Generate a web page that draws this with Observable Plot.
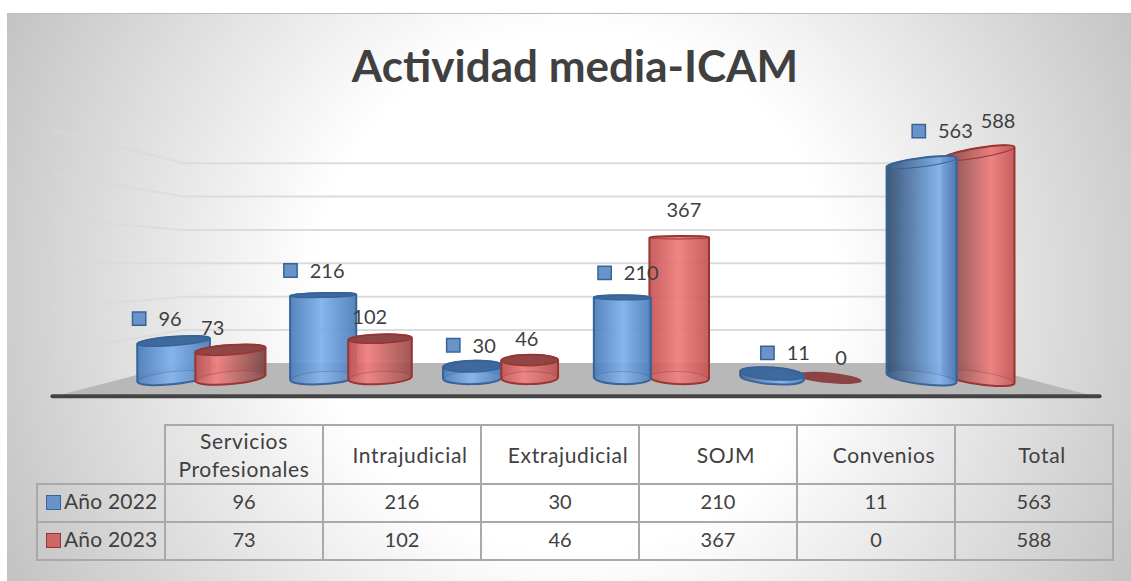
<!DOCTYPE html>
<html lang="es">
<head>
<meta charset="utf-8">
<script src="https://cdn.jsdelivr.net/npm/d3@7"></script>
<script src="https://cdn.jsdelivr.net/npm/@observablehq/plot@0.6"></script>
<style>
  html, body { margin: 0; padding: 0; background: #fff; width: 1131px; height: 581px; overflow: hidden; }
  #frame { position: absolute; left: 7px; top: 13px; width: 1124px; height: 568px; border-top: 1px solid #bcbcbc; box-sizing: border-box;
    background: radial-gradient(circle 626px at 568px 277px, #fff 0%, #fff 41.5%, #c4c4c4 100%); }
  #title { position: absolute; left: 0; top: 65px; transform: translateY(-50%); width: 1150px; text-align: center; margin: 0; font: 700 44px Lato, sans-serif; color: #404040; z-index: 2; }
  #chart { position: absolute; left: 7px; top: 100px; }
  #chart svg { background: transparent; overflow: visible; }
  table { position: absolute; left: 36px; top: 424px; border-collapse: collapse; table-layout: fixed; width: 1076px; font: 20px Lato, sans-serif; color: #404040; }
  th, td { border: 2px solid #a9a9a9; text-align: center; font-weight: 400; padding: 0; box-sizing: border-box; }
  td { line-height: 26px; padding-bottom: 4px; }
  th { font-size: 21px; letter-spacing: 0.65px; line-height: 28px; padding-left: 16px; }
  th:nth-child(2) { padding-left: 0; }
  thead tr { height: 59px; }
  tbody tr { height: 38px; }
  th.blank { border: 0; padding: 0; border-right: 2px solid #a9a9a9; border-bottom: 2px solid #a9a9a9; }
  td.key { text-align: left; padding-left: 8px; white-space: nowrap; font-size: 21px; letter-spacing: 0.2px; }
  .swatch { display: inline-block; width: 13px; height: 13px; margin-right: 3px; vertical-align: -1px; border: 1px solid; }
</style>
</head>
<body>
<div id="frame"></div>
<h1 id="title">Actividad media-ICAM</h1>
<div id="chart"></div>
<table id="tbl"></table>
<script>
const categories = ["Servicios Profesionales", "Intrajudicial", "Extrajudicial", "SOJM", "Convenios", "Total"];
const year2022 = [96, 216, 30, 210, 11, 563];
const year2023 = [73, 102, 46, 367, 0, 588];
const seriesNames = ["Año 2022", "Año 2023"];
const wallTicks = [100, 200, 300, 400, 500, 600];

// Look of the fake 3-D scene
const palette = {
  "Año 2022": {key: "#6a94c9", edge: "#37639a", base: "#4a7bb7", light: "#7db0ec", dark: "#2f4a6d", cap: "#3b6699"},
  "Año 2023": {key: "#cd6765", edge: "#9a3431", base: "#c25452", light: "#ee7c7c", dark: "#6e4040", cap: "#8b4343"}
};
const vanish = 2.49;     // x position (in category steps) of the vanishing point
const eyeLevel = 330;    // value at which a cylinder's top looks edge-on
const seriesShift = 0.19;

const rows = categories.flatMap((category, i) => [
  {category, series: seriesNames[0], value: year2022[i], x: i - seriesShift},
  {category, series: seriesNames[1], value: year2023[i], x: i + seriesShift}
]).map(r => ({...r, w: 0.367 + 0.045 * Math.abs(r.x - vanish)}))
  .sort((a, b) => Math.abs(b.x - vanish) - Math.abs(a.x - vanish));

const labelRows = rows.map(r => ({
  ...r,
  lx: r.x + (r.series === seriesNames[0] ? 0.107 : -0.007) + 0.05 * (r.x - vanish),
  ly: r.value * 1.05 + 55
}));
const keyRows = labelRows.filter(r => r.series === seriesNames[0])
  .map(r => ({...r, kx: r.lx - (String(r.value).length * 5.75 + 19.5) / 150}));

// Floor, wall lines: expressed in chart units (category steps, values)
const floorY = {front: -44, back: 39};
const floorShape = [
  {x: -0.945, y1: floorY.front, y2: floorY.front},
  {x: -0.127, y1: floorY.front, y2: floorY.back},
  {x: 5.113, y1: floorY.front, y2: floorY.back},
  {x: 5.925, y1: floorY.front, y2: floorY.front}
];
const wallBack = v => floorY.back + v * 0.872;
const wallOuter = v => -49 + v * 1.165;
const wallLeftLines = wallTicks.flatMap(t => [
  {t, x: -1.0, y: wallOuter(t)},
  {t, x: -0.127, y: wallBack(t)}
]);

// Builds the shading of each cylinder from its place relative to the vanishing point
function gradientDefs(index, scales, values, dimensions, context) {
  const defs = d3.create("svg:defs");
  rows.forEach((r, i) => {
    const p = palette[r.series], off = (r.x - vanish) / 3;
    const isBlue = r.series === seriesNames[0];
    const peak = isBlue
      ? (off < 0 ? 0.47 : 0.47 + off * 0.38)
      : Math.max(0.31, 0.42 + off * 0.28);
    const left = off > 0.4 ? d3.interpolateRgb(p.base, p.dark)(Math.min(1, off * 1.25)) : p.base;
    const right = !isBlue && off < 0 ? d3.interpolateRgb(p.base, p.dark)(Math.min(1, -off * 1.15)) : p.base;
    const g = defs.append("linearGradient").attr("id", "cyl" + i);
    g.append("stop").attr("offset", "0%").attr("stop-color", left);
    g.append("stop").attr("offset", peak * 100 + "%").attr("stop-color", p.light);
    g.append("stop").attr("offset", "100%").attr("stop-color", right);
  });
  return defs.node();
}

// Redraws each rect of the mark as a cylinder, keeping the scaled x1/x2/y1/y2 of the rect
function cylinders(index, scales, values, dimensions, context, next) {
  const g = next(index, scales, values, dimensions, context);
  const sel = d3.select(g);
  sel.selectAll("rect").remove();
  const X1 = values.x1, X2 = values.x2, Y1 = values.y1, Y2 = values.y2;
  for (const i of index) {
    const r = rows[i], p = palette[r.series];
    const cx = (X1[i] + X2[i]) / 2, rx = Math.abs(X2[i] - X1[i]) / 2;
    const ryOf = v => Math.max(1.5, 0.019 * Math.abs(v - eyeLevel));
    const angleOf = v => (r.x < vanish ? 0.0068 : v > eyeLevel ? 0.0135 : 0.0095) * (r.x - vanish) * (eyeLevel - v);
    const end = (cy, a) => {
      const t = a * Math.PI / 180;
      return {lx: cx - rx * Math.cos(t), ly: cy - rx * Math.sin(t), rx_: cx + rx * Math.cos(t), ry_: cy + rx * Math.sin(t)};
    };
    const yb = Y1[i], yt = Y2[i];
    const rb = ryOf(0), rt = ryOf(r.value), ab = angleOf(0), at = angleOf(r.value);
    const B = end(yb, ab), T = end(yt, at);
    const c = sel.append("g");
    if (r.value > 0) {
      c.append("path")
        .attr("d", `M${T.rx_},${T.ry_}A${rx},${rt} ${at} 0 0 ${T.lx},${T.ly}L${B.lx},${B.ly}A${rx},${rb} ${ab} 0 0 ${B.rx_},${B.ry_}Z`)
        .attr("fill", `url(#cyl${i})`).attr("fill-opacity", 0.93)
        .attr("stroke", p.edge).attr("stroke-width", 2);
      c.append("ellipse")
        .attr("transform", `translate(${cx},${yb}) rotate(${ab})`).attr("rx", rx - 1).attr("ry", rb)
        .attr("fill", "#fff").attr("fill-opacity", 0.05)
        .attr("stroke", p.edge).attr("stroke-opacity", 0.35).attr("stroke-width", 1);
      c.append("ellipse")
        .attr("transform", `translate(${cx},${yt}) rotate(${at})`).attr("rx", rx).attr("ry", rt)
        .attr("fill", r.value < eyeLevel ? p.cap : p.base).attr("fill-opacity", r.value < eyeLevel ? 0.95 : 0.12)
        .attr("stroke", p.edge).attr("stroke-width", r.value < eyeLevel ? 1.5 : 1);
    } else {
      c.append("ellipse")
        .attr("transform", `translate(${cx},${yb}) rotate(${ab})`).attr("rx", rx).attr("ry", rb - 1)
        .attr("fill", p.cap);
    }
  }
  return g;
}

const fontFamily = "Lato, sans-serif";
const chart = Plot.plot({
  width: 1124,
  height: 310,
  marginTop: 0, marginRight: 0, marginBottom: 0, marginLeft: 0,
  style: {background: "transparent", fontFamily, overflow: "visible"},
  x: {domain: [-1.3035, 6.21], range: [0, 1124], axis: null},
  y: {domain: [-84, 726], range: [310, 0], axis: null},
  color: {domain: seriesNames, range: seriesNames.map(s => palette[s].base)},
  marks: [
    gradientDefs,
    Plot.line(wallLeftLines, {x: "x", y: "y", z: "t", stroke: "#d8d8d8", strokeWidth: 2, strokeOpacity: 0.65}),
    Plot.ruleY(wallTicks, {y: wallBack, x1: -0.127, x2: 5.113, stroke: "#dcdcdc", strokeWidth: 2}),
    Plot.areaY(floorShape, {x: "x", y1: "y1", y2: "y2", fill: "#b8b8b8"}),
    Plot.ruleY([floorY.front - 3], {x1: -1.0, x2: 6.0, stroke: "#434343", strokeWidth: 4, strokeLinecap: "round"}),
    Plot.rect(rows, {x1: r => r.x - r.w / 2, x2: r => r.x + r.w / 2, y1: () => 0, y2: "value", fill: "series", render: cylinders}),
    Plot.dot(keyRows, {x: "kx", y: "ly", symbol: "square", r: 7.5, fill: palette[seriesNames[0]].key, stroke: palette[seriesNames[0]].edge, strokeWidth: 1.5}),
    Plot.text(labelRows, {x: "lx", y: "ly", dy: 1, text: r => String(r.value), fontSize: 20, fill: "#404040"})
  ]
});
document.getElementById("chart").append(chart);

// Data table below the chart
const tbl = d3.select("#tbl");
const colgroup = tbl.append("colgroup");
colgroup.append("col").style("width", "128px");
categories.forEach(() => colgroup.append("col").style("width", "158px"));
const head = tbl.append("thead").append("tr");
head.append("th").attr("class", "blank");
categories.forEach(c => head.append("th").text(c));
const body = tbl.append("tbody");
[[seriesNames[0], year2022], [seriesNames[1], year2023]].forEach(([name, vals]) => {
  const tr = body.append("tr");
  const k = tr.append("td").attr("class", "key");
  k.append("span").attr("class", "swatch").style("background", palette[name].key).style("border-color", palette[name].edge);
  k.append("span").text(name);
  vals.forEach(v => tr.append("td").text(v));
});
</script>
</body>
</html>
